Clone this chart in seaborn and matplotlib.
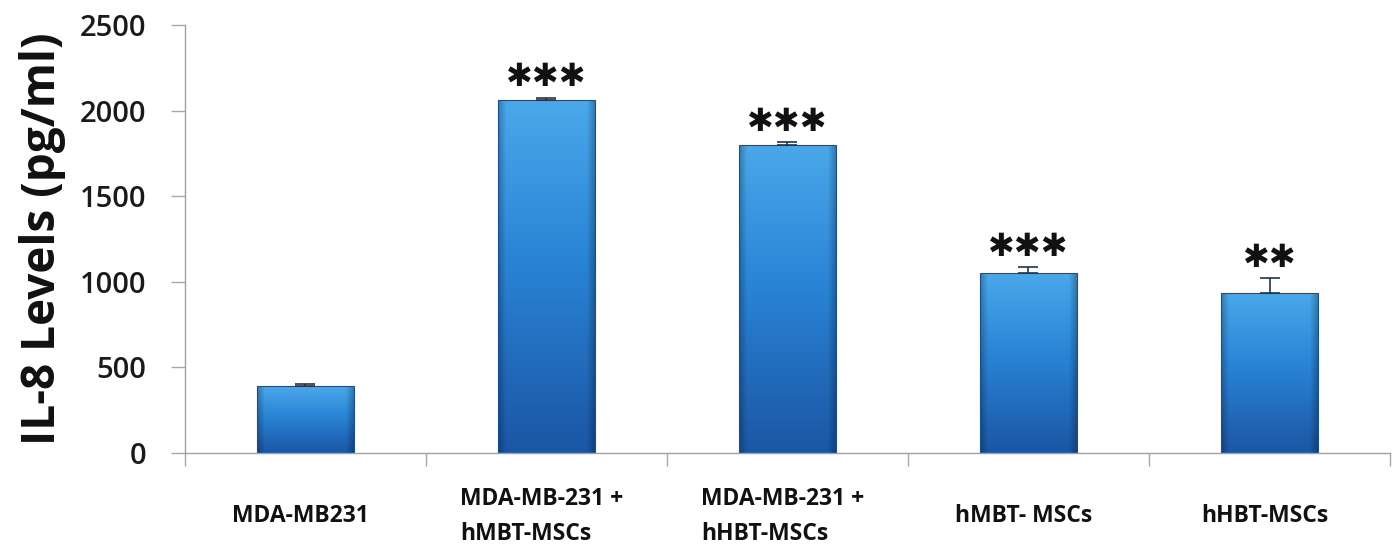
import numpy as np
import pandas as pd
import matplotlib
matplotlib.use("Agg")
import matplotlib.pyplot as plt
import seaborn as sns
from matplotlib.colors import to_rgb

# IL-8 secretion per culture condition
categories = ["MDA-MB231", "MDA-MB-231 +\nhMBT-MSCs", "MDA-MB-231 +\nhHBT-MSCs",
              "hMBT- MSCs", "hHBT-MSCs"]
il8_levels = [390, 2060, 1800, 1050, 935]
il8_sem = [12, 14, 14, 34, 85]
significance = ["", "***", "***", "***", "**"]
y_ticks = [0, 500, 1000, 1500, 2000, 2500]

sns.set_theme(style="white")
plt.rcParams["font.family"] = ["Open Sans", "DejaVu Sans"]

df = pd.DataFrame({"condition": categories, "il8": il8_levels})

fig = plt.figure(figsize=(13.97, 5.52), dpi=100)
ax = fig.add_axes([0.1324, 0.1793, 0.8626, 0.7754])

sns.barplot(data=df, x="condition", y="il8", color="#2a82d2", width=0.40,
            errorbar=None, ax=ax, edgecolor="#1a4f8f", linewidth=0.8)

# Bevelled blue gradient fill for each bar
top_c = np.array(to_rgb("#4aa8ea"))
mid_c = np.array(to_rgb("#2a84d6"))
bot_c = np.array(to_rgb("#1b56a4"))
ny, nx = 300, 100
t = np.linspace(0, 1, ny)[:, None]           # 0 = top, 1 = bottom
col = np.where(t < 0.45, top_c + (mid_c - top_c) * (t / 0.45),
               mid_c + (bot_c - mid_c) * ((t - 0.45) / 0.55))
img = np.repeat(col[:, None, :], nx, axis=1).reshape(ny, nx, 3)
xs = np.linspace(0, 1, nx)
edge = np.clip(np.minimum(xs, 1 - xs) / 0.08, 0, 1)
shade = 0.74 + 0.26 * edge
img = img * shade[None, :, None]
for patch in ax.patches:
    x0, y0 = patch.get_x(), patch.get_y()
    w, h = patch.get_width(), patch.get_height()
    patch.set_facecolor("none")
    im = ax.imshow(img, extent=[x0, x0 + w, y0, y0 + h], aspect="auto",
                   zorder=patch.get_zorder() - 0.1, interpolation="bilinear")
    im.set_clip_path(patch)
    patch.set_zorder(patch.get_zorder() + 0.2)

xpos = np.arange(len(categories))
ax.errorbar(xpos, il8_levels, yerr=[np.zeros(len(il8_sem)), il8_sem], fmt="none",
            ecolor="#1f3550", elinewidth=1.2, capsize=7, capthick=1.2, zorder=5)

for x, v, e, s in zip(xpos, il8_levels, il8_sem, significance):
    if s:
        ax.text(x, v + e + 28, "\u2731" * len(s), ha="center", va="bottom",
                fontsize=23, color="#111111", family=["DejaVu Sans"], zorder=6)

ax.set_xlim(-0.5, len(categories) - 0.5)
ax.set_ylim(0, 2500)
ax.set_yticks(y_ticks)
ax.set_yticklabels([str(v) for v in y_ticks], fontsize=21, fontweight="semibold", color="#1a1a1a")
ax.set_xticks(np.arange(-0.5, len(categories) + 0.5, 1.0))
ax.set_xticklabels([])
ax.tick_params(axis="y", direction="out", length=10, width=1, color="#a8a8a8", pad=18, left=True)
ax.tick_params(axis="x", direction="out", length=9, width=1, color="#a8a8a8", bottom=True)

for x, lab in zip(xpos, categories):
    ax.text(x - 0.02, -0.148, lab, transform=ax.get_xaxis_transform(), ha="center", va="center",
            multialignment="left", fontsize=16.5, fontweight="bold", color="#111111",
            linespacing=1.6)

ax.set_xlabel("")
ax.set_ylabel("IL-8 Levels (pg/ml)", fontsize=33, fontweight="bold", color="#111111", labelpad=10)

sns.despine(ax=ax)
for side in ["left", "bottom"]:
    ax.spines[side].set_color("#a0a0a0")
    ax.spines[side].set_linewidth(1)

fig.savefig("out.png", dpi=100)
